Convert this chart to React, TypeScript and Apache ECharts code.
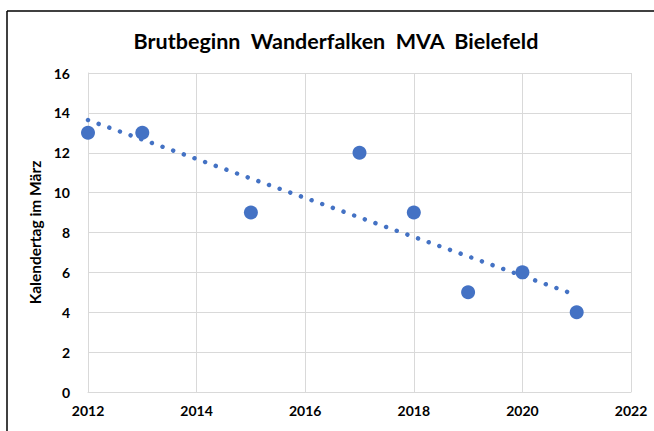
import React, { useEffect, useRef } from "react";
import * as echarts from "echarts";

const years = [2012, 2013, 2015, 2017, 2018, 2019, 2020, 2021];
const days = [13, 13, 9, 12, 9, 5, 6, 4];
const trendYears = [2012, 2021];
const trendValues = [13.64, 4.85];
const yTicks = [0, 2, 4, 6, 8, 10, 12, 14, 16];
const xTicks = [2012, 2014, 2016, 2018, 2020, 2022];
const titleText = "Brutbeginn  Wanderfalken  MVA  Bielefeld";

const FONT = "Lato, 'Open Sans', sans-serif";
const BLUE = "#4472C4";

export default function App() {
  const ref = useRef<HTMLDivElement>(null);
  useEffect(() => {
    if (!ref.current) return;
    const chart = echarts.init(ref.current, undefined, { renderer: "svg" });
    chart.setOption({
      animation: false,
      backgroundColor: "#ffffff",
      grid: { left: 88, right: 23, top: 73, bottom: 39 },
      xAxis: {
        type: "value",
        min: xTicks[0],
        max: xTicks[xTicks.length - 1],
        interval: 2,
        axisLine: { show: true, lineStyle: { color: "#d9d9d9", width: 1 } },
        axisTick: { show: false },
        splitLine: { show: true, lineStyle: { color: "#d9d9d9", width: 1 } },
        axisLabel: {
          margin: 11,
          fontFamily: FONT,
          fontWeight: "bold",
          fontSize: 14,
          color: "#000",
          formatter: (v: number) => String(v),
        },
      },
      yAxis: {
        type: "value",
        min: yTicks[0],
        max: yTicks[yTicks.length - 1],
        interval: 2,
        name: "Kalendertag im März",
        nameLocation: "middle",
        nameGap: 44,
        nameTextStyle: { fontFamily: FONT, fontWeight: "bold", fontSize: 15.5, color: "#000" },
        axisLine: { show: true, lineStyle: { color: "#d9d9d9", width: 1 } },
        axisTick: { show: false },
        splitLine: { show: true, lineStyle: { color: "#d9d9d9", width: 1 } },
        axisLabel: {
          margin: 18,
          fontFamily: FONT,
          fontWeight: "bold",
          fontSize: 14,
          color: "#000",
        },
      },
      series: [
        {
          type: "line",
          data: trendYears.map((x, i) => [x, trendValues[i]]),
          symbol: "none",
          lineStyle: { color: BLUE, width: 4.5, type: [0.01, 11.3], cap: "round" },
          z: 1,
        },
        {
          type: "scatter",
          data: years.map((x, i) => [x, days[i]]),
          symbol: "circle",
          symbolSize: 14,
          itemStyle: { color: BLUE, opacity: 1 },
          z: 2,
        },
      ],
      graphic: [
        {
          type: "text",
          x: 336,
          y: 41,
          style: {
            text: titleText,
            align: "center",
            verticalAlign: "middle",
            fill: "#000",
            fontFamily: FONT,
            fontWeight: "bold",
            fontSize: 21.5,
          },
        },
        { type: "line", shape: { x1: 7, y1: 11, x2: 654, y2: 11 }, style: { stroke: "#000", lineWidth: 1.5 } },
        { type: "line", shape: { x1: 7, y1: 11, x2: 7, y2: 431 }, style: { stroke: "#000", lineWidth: 1.5 } },
      ],
    });
    return () => chart.dispose();
  }, []);
  return (
    <div
      ref={ref}
      style={{ position: "fixed", left: 0, top: 0, width: 654, height: 431 }}
    />
  );
}
